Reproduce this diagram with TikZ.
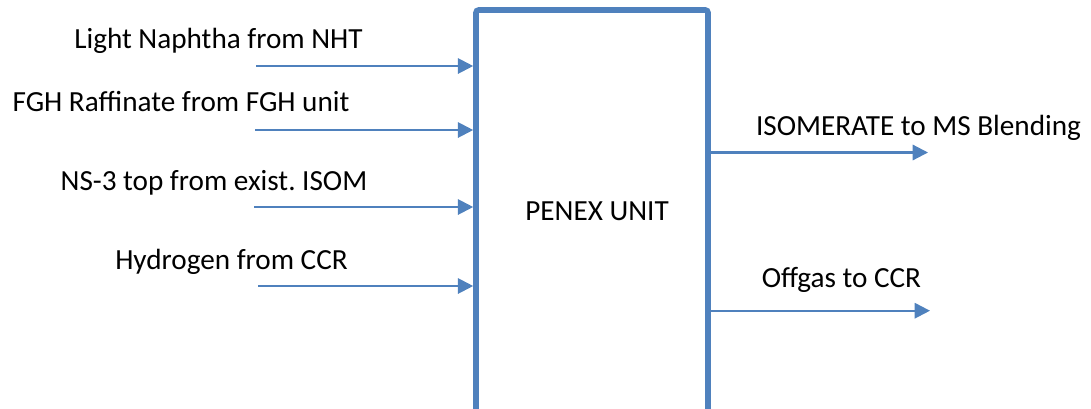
\documentclass[tikz,border=0pt]{standalone}
\usepackage{fontspec}
\setmainfont{Carlito}
\frenchspacing
\usetikzlibrary{arrows.meta}
\definecolor{flow}{RGB}{79,129,189}
\begin{document}
\begin{tikzpicture}[x=0.75pt,y=-0.75pt,
  lbl/.style={font=\fontsize{21.9}{26}\selectfont, inner sep=0pt, anchor=base},
  unitbox/.style={draw=flow, line width=4.2pt, rounded corners=2pt, minimum width=174pt, minimum height=330pt, inner sep=0pt},
  flowarrow/.style={draw=flow, line width=1.6pt, -{Triangle[length=11.5pt,width=11.5pt]}}]
\useasboundingbox (0,0) rectangle (1091,408);
\clip (0,0) rectangle (1091,408);
\node[unitbox] (box) at (592,230) {};
\node[lbl] (penex) at (597,220.7) {PENEX UNIT};
% inputs
\coordinate (s1) at (256,66);
\coordinate (s2) at (255,130);
\coordinate (s3) at (254,207);
\coordinate (s4) at (258,286);
\draw[flowarrow] (s1) -- (s1 -| box.west);
\draw[flowarrow] (s2) -- (s2 -| box.west);
\draw[flowarrow] (s3) -- (s3 -| box.west);
\draw[flowarrow] (s4) -- (s4 -| box.west);
\node[lbl] (l1) at (218.5,48) {Light Naphtha from NHT};
\node[lbl] (l2) at (181,111.7) {FGH Raffinate from FGH unit};
\node[lbl] (l3) at (214,190.7) {NS-3 top from exist. ISOM};
\node[lbl] (l4) at (231.5,269) {Hydrogen from CCR};
% outputs
\coordinate (e1) at (928,152.5);
\coordinate (e2) at (930,310.7);
\draw[flowarrow] (e1 -| box.east) -- (e1);
\draw[flowarrow] (e2 -| box.east) -- (e2);
\node[lbl] (r1) at (918.5,135.7) {ISOMERATE to MS Blending};
\node[lbl] (r2) at (841.5,287.7) {Offgas to CCR};
\end{tikzpicture}
\end{document}
